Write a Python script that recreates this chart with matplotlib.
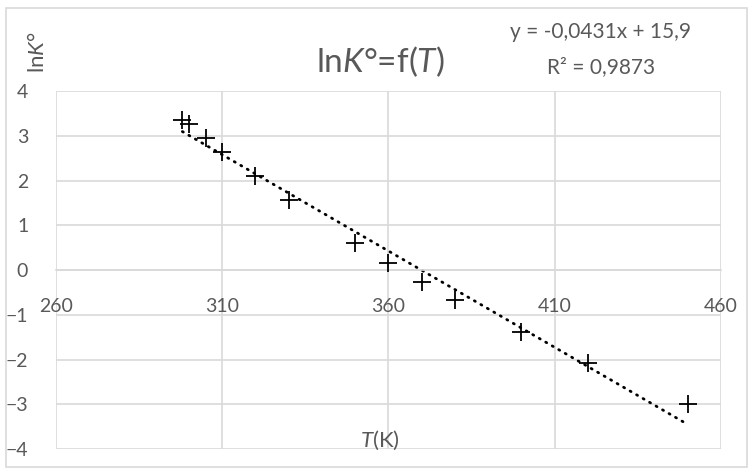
import numpy as np
import matplotlib
matplotlib.use('Agg')
import matplotlib.pyplot as plt
from matplotlib.patches import Rectangle

plt.rcParams['font.family'] = ['Lato', 'DejaVu Sans']
plt.rcParams['mathtext.fontset'] = 'custom'
plt.rcParams['mathtext.rm'] = 'Lato'
plt.rcParams['mathtext.it'] = 'Lato:italic'

# temperatures (K) and ln K°
T = [298, 300, 305, 310, 320, 330, 350, 360, 370, 380, 400, 420, 450]
lnK = [3.36, 3.27, 2.96, 2.64, 2.10, 1.56, 0.60, 0.16, -0.26, -0.67, -1.39, -2.08, -2.99]
xticks = [260, 310, 360, 410, 460]
yticks = [-4, -3, -2, -1, 0, 1, 2, 3, 4]

grey = '#595959'
gridc = '#d9d9d9'

fig = plt.figure(figsize=(7.51, 4.69), dpi=100)
ax = fig.add_axes([56/751, 1-449/469, (721-56)/751, (449-91)/469])

ax.plot(T, lnK, '+', color='black', markersize=13, markeredgewidth=1.3, zorder=3)

# linear trendline
a, b = np.polyfit(T, lnK, 1)
xs = np.array([min(T), max(T)])
ax.plot(xs, a*xs + b, color='black', lw=2.0, linestyle=(0, (0.4, 2.3)),
        dash_capstyle='round', zorder=2)

ax.set_xlim(260, 460)
ax.set_ylim(-4, 4)
ax.set_xticks(xticks)
ax.set_yticks(yticks)
ax.grid(True, color=gridc, lw=1.2)
ax.set_axisbelow(True)

for s in ['top', 'right', 'left']:
    ax.spines[s].set_visible(False)
ax.spines['bottom'].set_position(('data', 0))
ax.spines['bottom'].set_color(gridc)
ax.spines['bottom'].set_linewidth(1.2)
ax.tick_params(length=0, labelcolor=grey, labelsize=14)
ax.tick_params(axis='x', pad=20)
ax.tick_params(axis='y', pad=20)

fig.text(380/751, 1-62/469, 'ln$K$°=f($T$)', color=grey, fontsize=24,
         ha='center', va='center')
fig.text(600/751, 1-32/469, 'y = -0,0431x + 15,9', color=grey, fontsize=15,
         ha='center', va='center')
fig.text(601/751, 1-67/469, 'R² = 0,9873', color=grey, fontsize=15,
         ha='center', va='center')
fig.text(38/751, 1-52/469, 'ln$K$°', color=grey, fontsize=16, rotation=90,
         ha='center', va='center')
fig.text(380/751, 1-440/469, '$T$(K)', color=grey, fontsize=16,
         ha='center', va='center')

fig.patches.append(Rectangle((6/751, 2/469), 741/751, 459/469, transform=fig.transFigure,
                             fill=False, edgecolor=gridc, lw=1.2))

fig.savefig('out.png', dpi=100)
